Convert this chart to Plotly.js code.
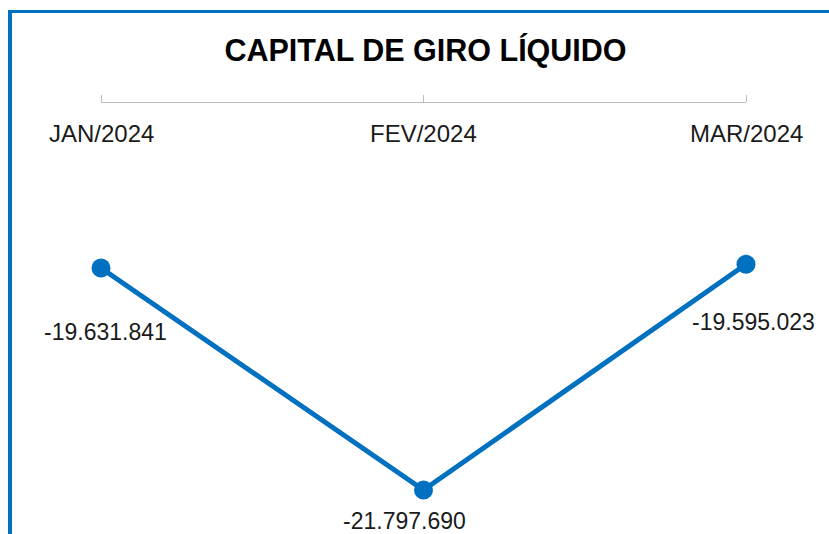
<!DOCTYPE html>
<html>
<head>
<meta charset="utf-8">
<script src="https://cdn.plot.ly/plotly-3.0.1.min.js"></script>
<style>
  html, body { margin: 0; padding: 0; background: #ffffff; }
  #wrap { position: relative; width: 829px; height: 534px; overflow: hidden; }
  #chart { position: absolute; left: 0; top: 0; width: 829px; height: 534px; }
  #frame { position: absolute; left: 8px; top: 10px; width: 900px; height: 600px;
           border-left: 4px solid #0070C0; border-top: 3px solid #0070C0; pointer-events: none; }
</style>
</head>
<body>
<div id="wrap">
  <div id="chart"></div>
  <div id="frame"></div>
</div>
<script>
const categories = ['JAN/2024', 'FEV/2024', 'MAR/2024'];
const values = [-19631841, -21797690, -19595023];
const chartTitle = 'CAPITAL DE GIRO LÍQUIDO';

function fmt(v) {
  const s = Math.abs(Math.round(v)).toString().replace(/\B(?=(\d{3})+(?!\d))/g, '.');
  return (v < 0 ? '-' : '') + s;
}

const FONT = 'Liberation Sans, Arial, sans-serif';
const BLUE = '#0070C0';
const TXT = '#1a1a1a';
const labelShift = [[4, -64], [-19, -31], [7, -58]];

const trace = {
  x: categories,
  y: values,
  type: 'scatter',
  mode: 'lines+markers',
  line: { color: BLUE, width: 5 },
  marker: { color: BLUE, size: 19 },
  cliponaxis: false,
  hoverinfo: 'skip',
  showlegend: false
};

const valueLabels = categories.map((c, i) => ({
  x: c, y: values[i], xref: 'x', yref: 'y',
  text: fmt(values[i]), showarrow: false,
  xanchor: 'center', yanchor: 'middle',
  xshift: labelShift[i][0], yshift: labelShift[i][1],
  font: { family: FONT, size: 23, color: TXT }
}));

const tickLabels = categories.map(c => ({
  x: c, y: 1, xref: 'x', yref: 'paper',
  text: c, showarrow: false,
  xanchor: 'center', yanchor: 'middle', yshift: -30,
  font: { family: FONT, size: 24, color: TXT }
}));

const layout = {
  width: 829, height: 534,
  margin: { l: 101, r: 83, t: 103, b: 14 },
  paper_bgcolor: '#ffffff', plot_bgcolor: '#ffffff',
  title: { text: '<b>' + chartTitle + '</b>', xref: 'container', yref: 'container',
           x: 0.5133, xanchor: 'center', y: 0.9054, yanchor: 'middle',
           font: { family: FONT, size: 30.5, color: '#000000' } },
  xaxis: {
    type: 'category', side: 'top', range: [0, 2],
    showline: true, linecolor: '#BFBFBF', linewidth: 1,
    showgrid: false, zeroline: false, showticklabels: false,
    ticks: 'outside', ticklen: 7, tickcolor: '#BFBFBF', tickwidth: 1,
    fixedrange: true
  },
  xaxis2: {
    overlaying: 'x', anchor: 'y', side: 'top', type: 'linear', range: [0, 2],
    tickvals: [0, 1, 2], showticklabels: false,
    showline: false, showgrid: false, zeroline: false,
    ticks: 'inside', ticklen: 7, tickcolor: '#BFBFBF', tickwidth: 1
  },
  yaxis: { visible: false, range: [-22090378, -18022085], fixedrange: true },
  annotations: valueLabels.concat(tickLabels)
};

Plotly.newPlot('chart', [trace], layout, { displayModeBar: false, staticPlot: true });
</script>
</body>
</html>
